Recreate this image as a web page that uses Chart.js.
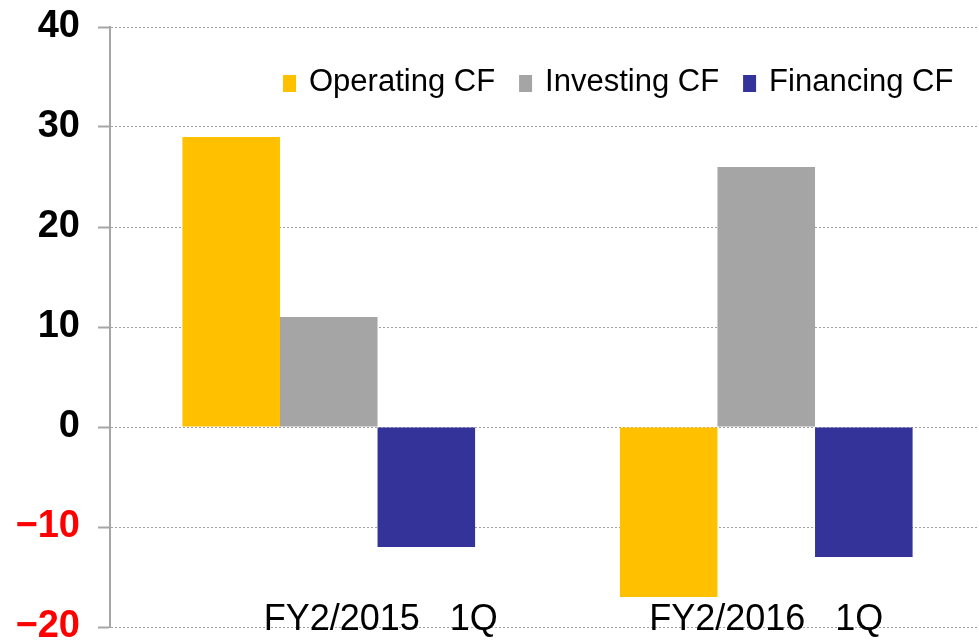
<!DOCTYPE html>
<html lang="en">
<head>
    <meta charset="UTF-8">
    <title>Cash Flow</title>
    <script src="https://cdn.jsdelivr.net/npm/chart.js"></script>
    <style>
        html, body { margin: 0; padding: 0; overflow: hidden; background: #fff; }
        #wrap { width: 990px; height: 641px; position: relative; }
    </style>
</head>
<body>
    <div id="wrap"><canvas id="cfChart"></canvas></div>

    <script>
        // data
        const periods = ['FY2/2015   1Q', 'FY2/2016   1Q'];
        const seriesNames = ['Operating CF', 'Investing CF', 'Financing CF'];
        const operatingCF = [29, -17];
        const investingCF = [11, 26];
        const financingCF = [-12, -13];
        const yTicks = [-20, -10, 0, 10, 20, 30, 40];

        const colors = ['#FFC000', '#A5A5A5', '#333399'];

        // legend drawn inside the plot, like the original
        const innerLegend = {
            id: 'innerLegend',
            afterDraw(chart, args, opts) {
                const ctx = chart.ctx;
                ctx.save();
                ctx.font = '31px "Liberation Sans", Arial, sans-serif';
                ctx.textBaseline = 'alphabetic';
                let x = opts.x;
                chart.data.datasets.forEach(ds => {
                    ctx.fillStyle = ds.backgroundColor;
                    ctx.fillRect(x, opts.y - 16, 13, 17);
                    x += 26;
                    ctx.fillStyle = '#000';
                    ctx.fillText(ds.label, x, opts.y);
                    x += ctx.measureText(ds.label).width + 24;
                });
                ctx.restore();
            }
        };

        // category labels sit on top of the lowest gridline
        const catLabels = {
            id: 'catLabels',
            afterDraw(chart, args, opts) {
                const ctx = chart.ctx;
                const xs = chart.scales.x;
                ctx.save();
                ctx.font = '36px "Liberation Sans", Arial, sans-serif';
                ctx.textAlign = 'center';
                ctx.textBaseline = 'alphabetic';
                ctx.fillStyle = '#000';
                chart.data.labels.forEach((lab, i) => {
                    ctx.fillText(lab, xs.getPixelForTick(i) + (opts.shift[i] || 0), opts.y);
                });
                ctx.restore();
            }
        };

        const ctx = document.getElementById('cfChart').getContext('2d');
        new Chart(ctx, {
            type: 'bar',
            data: {
                labels: periods,
                datasets: [
                    { label: seriesNames[0], data: operatingCF, backgroundColor: colors[0] },
                    { label: seriesNames[1], data: investingCF, backgroundColor: colors[1] },
                    { label: seriesNames[2], data: financingCF, backgroundColor: colors[2] }
                ]
            },
            options: {
                responsive: true,
                maintainAspectRatio: false,
                animation: false,
                datasets: {
                    bar: { categoryPercentage: 0.669, barPercentage: 1.0 }
                },
                layout: { padding: { top: 27, bottom: 14, right: 5, left: 0 } },
                plugins: {
                    legend: { display: false },
                    tooltip: { enabled: false },
                    innerLegend: { x: 283, y: 91 },
                    catLabels: { y: 630, shift: [52, 0] }
                },
                scales: {
                    x: { display: false },
                    y: {
                        min: -20,
                        max: 40,
                        afterBuildTicks: s => { s.ticks = yTicks.map(v => ({ value: v })); },
                        afterFit: s => {
                            s.width = 110;
                            s.paddingTop = 0;
                            s.paddingBottom = 0;
                        },
                        border: { display: true, color: '#A6A6A6', width: 2, dash: [2, 2] },
                        grid: {
                            color: '#A0A0A0',
                            lineWidth: 1,
                            drawTicks: true,
                            tickLength: 12,
                            tickColor: '#A6A6A6',
                            tickWidth: 2,
                            tickBorderDash: []
                        },
                        ticks: {
                            padding: 18,
                            font: { family: '"Liberation Sans", Arial, sans-serif', size: 38, weight: 'bold' },
                            color: c => (c.tick && c.tick.value < 0 ? '#FF0000' : '#000000'),
                            callback: v => (v < 0 ? '\u2212' + Math.abs(v) : String(v))
                        }
                    }
                }
            },
            plugins: [innerLegend, catLabels]
        });
    </script>
</body>
</html>
